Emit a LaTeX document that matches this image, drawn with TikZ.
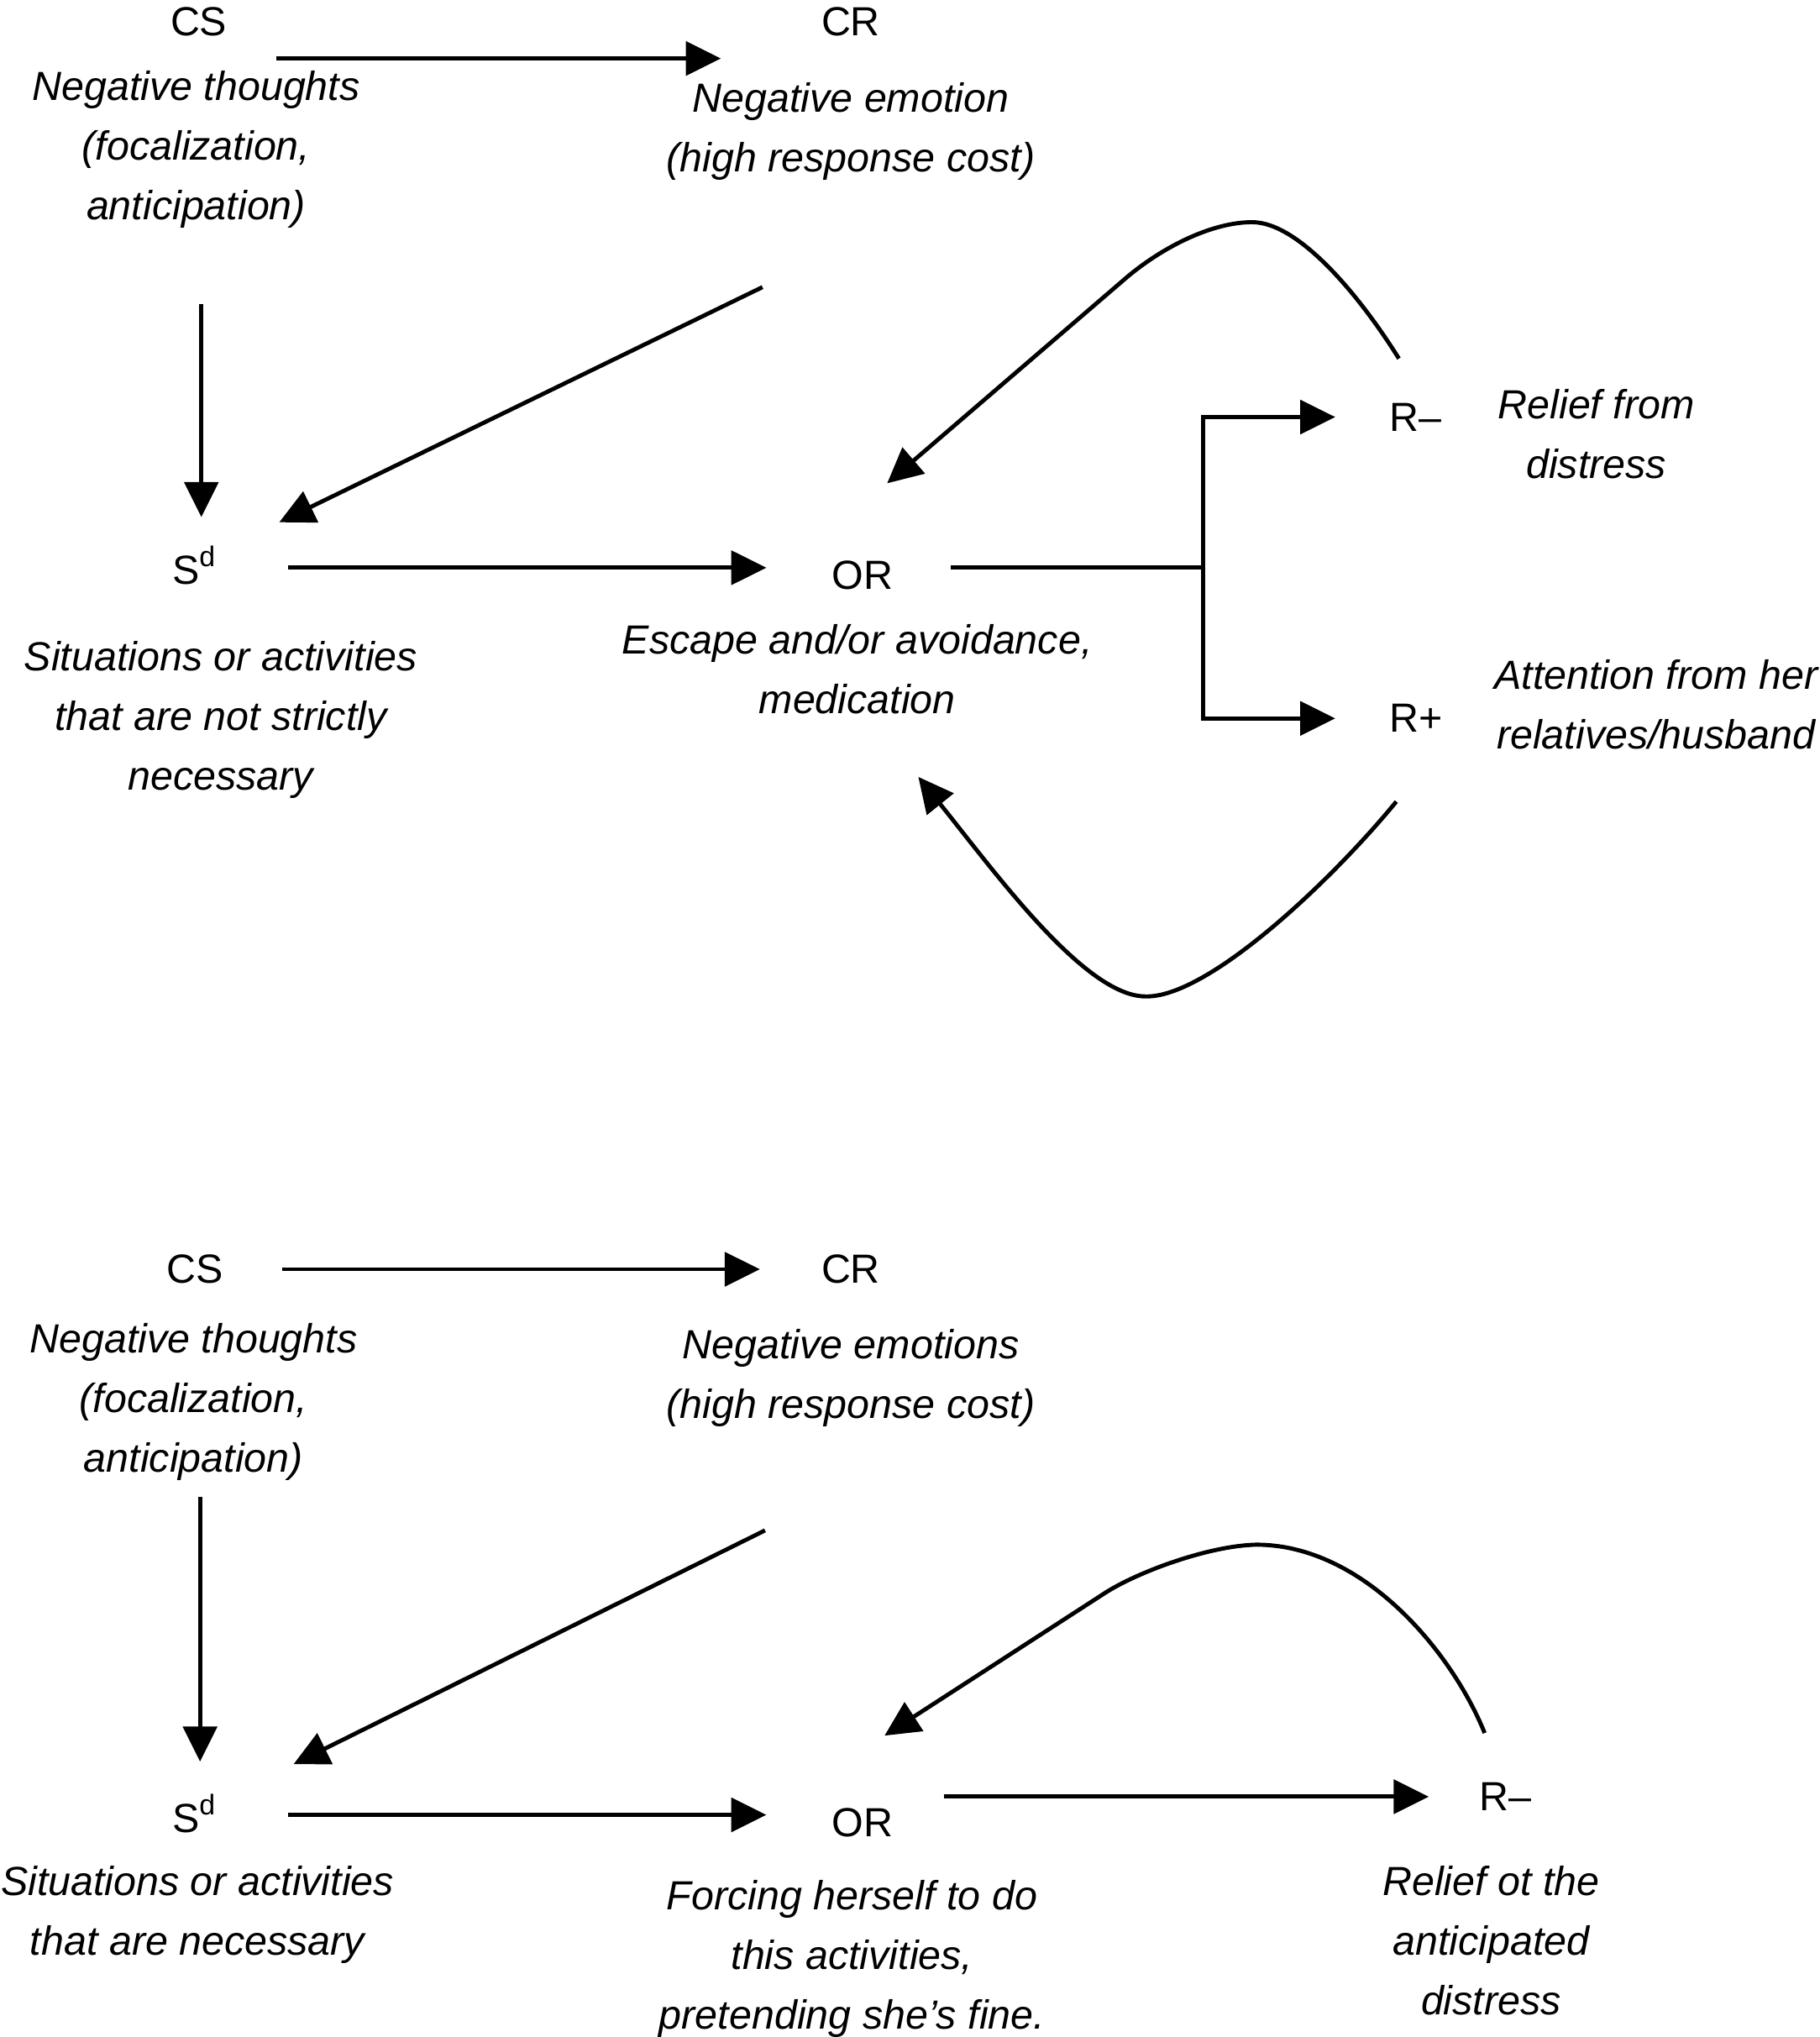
\documentclass[tikz,border=0pt]{standalone}
\usepackage{fontspec}
\setmainfont{Liberation Sans}
\usetikzlibrary{arrows.meta}
\begin{document}
\begin{tikzpicture}[x=0.01cm, y=-0.01cm]

	\tikzstyle{lbl}=[inner sep=0pt, font=\fontsize{8.9}{13.04}\selectfont]
	\tikzstyle{desc}=[inner sep=0pt, align=center, font=\fontsize{8.9}{13.04}\selectfont\itshape]
	\tikzstyle{arr}=[-{Triangle[length=0.27cm, width=0.26cm]}, line width=0.9pt]
	\tikzstyle{lin}=[line width=0.9pt]

	\useasboundingbox (0, 0) rectangle (1401, 1568);

	\coordinate (cs_1) at (153, 17); % ARRIBA
	\coordinate (cr_1) at (655, 17); % ARRIBA
	\coordinate (sd_1) at (150, 435); % ARRIBA
	\coordinate (or_1) at (664, 443); % ARRIBA
	\coordinate (rm_1) at (1090, 321); % ARRIBA
	\coordinate (rp_1) at (1090, 553); % ARRIBA
	\coordinate (th_1) at (151, 115);
	\coordinate (em_1) at (655, 101);
	\coordinate (si_1) at (170, 554);
	\coordinate (es_1) at (660, 515);
	\coordinate (rel_1) at (1229, 334);
	\coordinate (att_1) at (1275, 542);

	\coordinate (cs_2) at (150, 977); % ABAJO
	\coordinate (cr_2) at (655, 977); % ABAJO
	\coordinate (sd_2) at (150, 1396); % ABAJO
	\coordinate (or_2) at (664, 1403); % ABAJO
	\coordinate (rm_2) at (1159, 1383); % ABAJO
	\coordinate (th_2) at (149, 1079);
	\coordinate (em_2) at (655, 1061);
	\coordinate (si_2) at (152, 1474);
	\coordinate (fo_2) at (656, 1508);
	\coordinate (rel_2) at (1148, 1494);

	% extremos de flechas
	\coordinate (cs_1_o) at (213, 45);
	\coordinate (cr_1_i) at (555, 45);
	\coordinate (th_1_o) at (155, 234);
	\coordinate (sd_1_i) at (155, 398);
	\coordinate (em_1_o) at (587, 221);
	\coordinate (sd_1_j) at (215, 402);
	\coordinate (sd_1_o) at (222, 437);
	\coordinate (or_1_i) at (590, 437);
	\coordinate (or_1_o) at (732, 437);
	\coordinate (fork_1) at (926, 437);
	\coordinate (rm_1_i) at (1028, 321);
	\coordinate (rp_1_i) at (1028, 553);
	\coordinate (rm_1_o) at (1077, 276);
	\coordinate (or_1_j) at (683, 372);
	\coordinate (rp_1_o) at (1075, 617);
	\coordinate (or_1_k) at (707, 598);

	\coordinate (cs_2_o) at (217, 977);
	\coordinate (cr_2_i) at (585, 977);
	\coordinate (th_2_o) at (154, 1152);
	\coordinate (sd_2_i) at (154, 1356);
	\coordinate (em_2_o) at (589, 1178);
	\coordinate (sd_2_j) at (226, 1358);
	\coordinate (sd_2_o) at (222, 1397);
	\coordinate (or_2_i) at (590, 1397);
	\coordinate (or_2_o) at (727, 1383);
	\coordinate (rm_2_i) at (1100, 1383);
	\coordinate (rm_2_o) at (1143, 1334);
	\coordinate (or_2_j) at (681, 1336);

	\node[lbl] (cs_1) at (cs_1) {CS};
	\node[lbl] (cr_1) at (cr_1) {CR};
	\node[lbl] (sd_1) at (sd_1) {S\textsuperscript{d}};
	\node[lbl] (or_1) at (or_1) {OR};
	\node[lbl] (rm_1) at (rm_1) {R–};
	\node[lbl] (rp_1) at (rp_1) {R+};
	\node[desc] (th_1) at (th_1) {Negative thoughts\\(focalization,\\anticipation)};
	\node[desc] (em_1) at (em_1) {Negative emotion\\(high response cost)};
	\node[desc] (si_1) at (si_1) {Situations or activities\\that are not strictly\\necessary};
	\node[desc] (es_1) at (es_1) {Escape and/or avoidance,\\medication};
	\node[desc] (rel_1) at (rel_1) {Relief from\\distress};
	\node[desc] (att_1) at (att_1) {Attention from her\\relatives/husband};

	\node[lbl] (cs_2) at (cs_2) {CS};
	\node[lbl] (cr_2) at (cr_2) {CR};
	\node[lbl] (sd_2) at (sd_2) {S\textsuperscript{d}};
	\node[lbl] (or_2) at (or_2) {OR};
	\node[lbl] (rm_2) at (rm_2) {R–};
	\node[desc] (th_2) at (th_2) {Negative thoughts\\(focalization,\\anticipation)};
	\node[desc] (em_2) at (em_2) {Negative emotions\\(high response cost)};
	\node[desc] (si_2) at (si_2) {Situations or activities\\that are necessary};
	\node[desc] (fo_2) at (fo_2) {Forcing herself to do\\this activities,\\pretending she’s fine.};
	\node[desc] (rel_2) at (rel_2) {Relief ot the\\anticipated\\distress};

	\draw[arr] (cs_1_o) -- (cr_1_i);
	\draw[arr] (th_1_o) -- (sd_1_i);
	\draw[arr] (em_1_o) -- (sd_1_j);
	\draw[arr] (sd_1_o) -- (or_1_i);
	\draw[lin] (or_1_o) -- (fork_1);
	\draw[arr] (fork_1) |- (rm_1_i);
	\draw[arr] (fork_1) |- (rp_1_i);
	\draw[arr] (rm_1_o) .. controls (1047, 228) and (1000, 171) .. (964, 171) .. controls (935, 171) and (898, 188) .. (868, 213) -- (or_1_j);
	\draw[arr] (rp_1_o) .. controls (1025, 678) and (930, 768) .. (882, 767) .. controls (835, 767) and (765, 670) .. (or_1_k);

	\draw[arr] (cs_2_o) -- (cr_2_i);
	\draw[arr] (th_2_o) -- (sd_2_i);
	\draw[arr] (em_2_o) -- (sd_2_j);
	\draw[arr] (sd_2_o) -- (or_2_i);
	\draw[arr] (or_2_o) -- (rm_2_i);
	\draw[arr] (rm_2_o) .. controls (1118, 1272) and (1050, 1189) .. (967, 1189) .. controls (930, 1190) and (876, 1210) .. (851, 1226) -- (or_2_j);
\end{tikzpicture}
\end{document}
